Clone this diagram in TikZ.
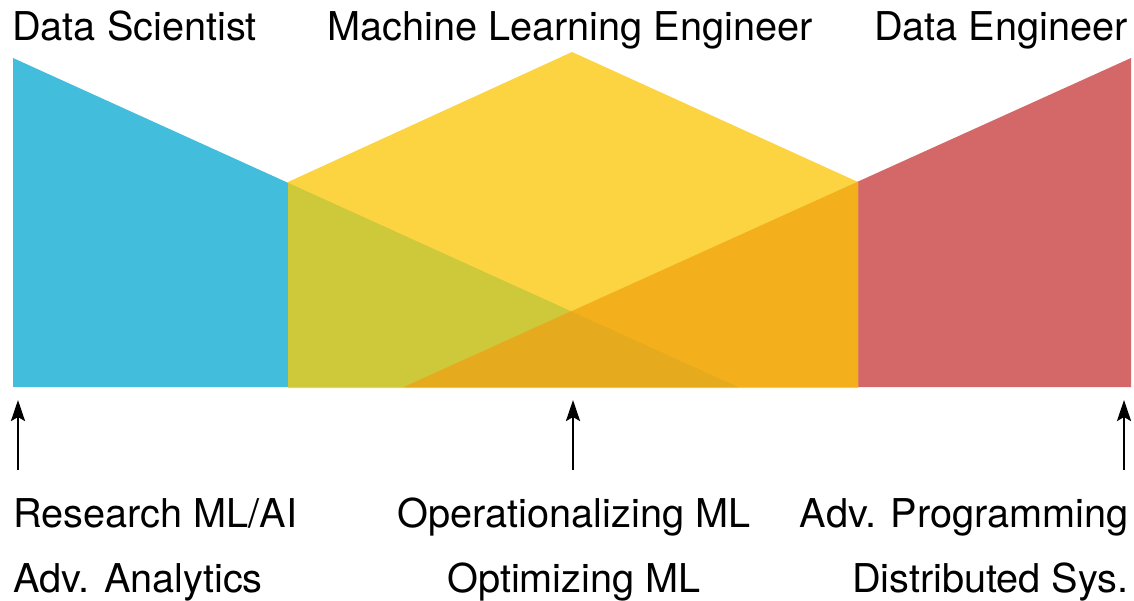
\documentclass[tikz,border=0pt]{standalone}
\usepackage{fontspec}
\setmainfont{TeX Gyre Heros}
\usetikzlibrary{arrows.meta}
\definecolor{ScientistBlue}{RGB}{66,190,220}
\definecolor{MLYellow}{RGB}{252,212,65}
\definecolor{EngineerRed}{RGB}{212,103,103}
\definecolor{BlueYellow}{RGB}{205,201,58}
\definecolor{RedYellow}{RGB}{243,176,28}
\definecolor{AllThree}{RGB}{229,170,30}
\newcommand*{\LabelSize}{\fontsize{39.7}{47}\selectfont}
\newcommand*{\BlueShape}{(13,58) -- (13,387) -- (738,387) -- cycle}
\newcommand*{\RedShape}{(1131,58) -- (1131,387) -- (404,387) -- cycle}
\newcommand*{\YellowShape}{(288,388) -- (288,182) -- (572,52) -- (858,182) -- (858,388) -- cycle}
\tikzset{
    role text/.style={font=\LabelSize, inner sep=0pt},
    skill arrow/.style={-{Stealth[length=21pt,width=14pt,inset=4pt]}, line width=2.6pt},
}
\begin{document}
\begin{tikzpicture}[x=1pt,y=-1pt]
    \useasboundingbox (0,0) rectangle (1134,600);

    % role shapes
    \fill[ScientistBlue] \BlueShape;
    \fill[EngineerRed] \RedShape;
    \fill[MLYellow] \YellowShape;
    \begin{scope}
        \clip \YellowShape;
        \fill[BlueYellow] \BlueShape;
        \fill[RedYellow] \RedShape;
        \clip \BlueShape;
        \fill[AllThree] \RedShape;
    \end{scope}

    % role names
    \node[role text, anchor=base west] (ds) at (12,40) {Data Scientist};
    \node[role text, anchor=base] (mle) at (570,40) {Machine Learning Engineer};
    \node[role text, anchor=base east] (de) at (1128,40) {Data Engineer};

    % skills
    \node[role text, anchor=base west] (ds skill a) at (13,527) {Research ML/AI};
    \node[role text, anchor=base west] (ds skill b) at (13,592) {Adv. Analytics};
    \node[role text, anchor=base] (mle skill a) at (574,527) {Operationalizing ML};
    \node[role text, anchor=base] (mle skill b) at (574,592) {Optimizing ML};
    \node[role text, anchor=base east] (de skill a) at (1129,527) {Adv. Programming};
    \node[role text, anchor=base east] (de skill b) at (1129,592) {Distributed Sys.};

    % arrows
    \foreach \X/\N in {18/ds, 573/mle, 1124/de} {
        \coordinate (\N tail) at (\X,470);
        \coordinate (\N head) at (\X,400);
        \draw[skill arrow] (\N tail) -- (\N head);
    }
\end{tikzpicture}
\end{document}
